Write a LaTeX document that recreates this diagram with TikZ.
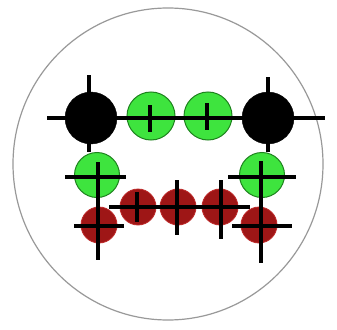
\documentclass[tikz,border=0pt]{standalone}
\definecolor{beadgreen}{RGB}{62,228,62}
\definecolor{beadgreenedge}{RGB}{30,130,30}
\definecolor{beadred}{RGB}{158,22,22}
\definecolor{beadrededge}{RGB}{190,40,40}
\begin{document}
\begin{tikzpicture}[x=1pt,y=-1pt,
  bead/.style={circle,inner sep=0pt,minimum size=#1},
  blackbead/.style={bead=52pt,fill=black,draw=black},
  greenbead/.style={bead=#1,fill=beadgreen,draw=beadgreenedge,line width=1pt},
  redbead/.style={bead=36pt,fill=beadred,draw=beadrededge,line width=0.8pt},
  rod/.style={line width=3.6pt,black}]
\useasboundingbox (0,0) rectangle (337,329);
\fill[white] (0,0) rectangle (337,329);
\draw[gray!80,line width=1.2pt] (168,164) ellipse (155 and 156);
% beads
\node[blackbead] (bl) at (91,118) {};
\node[blackbead] (br) at (268,118) {};
\node[greenbead=48pt] (g1) at (151,116) {};
\node[greenbead=48pt] (g2) at (208,116) {};
\node[greenbead=45pt] (gl) at (97,175) {};
\node[greenbead=45pt] (gr) at (262,175) {};
\node[redbead] (r1) at (99,225) {};
\node[redbead] (r2) at (138,207) {};
\node[redbead] (r3) at (178,207) {};
\node[redbead] (r4) at (220,207) {};
\node[redbead] (r5) at (259,225) {};
% rod end points
\coordinate (h1a) at (47,118);  \coordinate (h1b) at (325,118);
\coordinate (v1a) at (89,75);   \coordinate (v1b) at (89,152);
\coordinate (v2a) at (268,77);  \coordinate (v2b) at (268,152);
\coordinate (g1a) at (150,105); \coordinate (g1b) at (150,132);
\coordinate (g2a) at (207,103); \coordinate (g2b) at (207,130);
\coordinate (gla) at (65,177);  \coordinate (glb) at (126,177);
\coordinate (vla) at (98,162);  \coordinate (vlb) at (98,260);
\coordinate (gra) at (228,177); \coordinate (grb) at (296,177);
\coordinate (vra) at (261,161); \coordinate (vrb) at (261,263);
\coordinate (r1a) at (74,226);  \coordinate (r1b) at (124,226);
\coordinate (r5a) at (232,226); \coordinate (r5b) at (292,226);
\coordinate (hma) at (109,207); \coordinate (hmb) at (250,207);
\coordinate (r2a) at (137,192); \coordinate (r2b) at (137,222);
\coordinate (r3a) at (177,180); \coordinate (r3b) at (177,235);
\coordinate (r4a) at (221,180); \coordinate (r4b) at (221,239);
% rods
\draw[rod] (h1a) -- (h1b);
\draw[rod] (v1a) -- (v1b);
\draw[rod] (v2a) -- (v2b);
\draw[rod] (g1a) -- (g1b);
\draw[rod] (g2a) -- (g2b);
\draw[rod] (gla) -- (glb);
\draw[rod] (vla) -- (vlb);
\draw[rod] (gra) -- (grb);
\draw[rod] (vra) -- (vrb);
\draw[rod] (r1a) -- (r1b);
\draw[rod] (r5a) -- (r5b);
\draw[rod] (hma) -- (hmb);
\draw[rod] (r2a) -- (r2b);
\draw[rod] (r3a) -- (r3b);
\draw[rod] (r4a) -- (r4b);
\end{tikzpicture}
\end{document}
